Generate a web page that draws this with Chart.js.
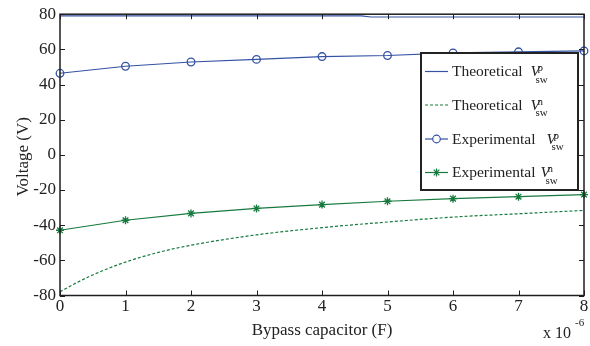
<!DOCTYPE html>
<html lang="en">
<head>
<meta charset="UTF-8">
<title>Voltage vs bypass capacitor</title>
<script src="https://cdn.jsdelivr.net/npm/chart.js"></script>
<style>
  body { margin: 0; background: #fff; }
  #wrap { width: 590px; height: 346px; }
</style>
</head>
<body>
<div id="wrap"><canvas id="vChart" width="590" height="346"></canvas></div>
<script>
// values (x in units of 1e-6 F, y in volts)
const theoryVpX = [0, 4.6, 4.75, 8];
const theoryVp  = [79, 79, 78.4, 78.4];

const theoryVnX = [0, 0.25, 0.5, 1, 1.5, 2, 3, 4, 5, 6, 7, 8];
const theoryVn  = [-77.9, -72.8, -68.3, -61, -55.5, -51.4, -45.5, -41.4, -38.2, -35.4, -33.5, -31.6];

const capX  = [0, 1, 2, 3, 4, 5, 6, 7, 8];
const expVp = [46.4, 50.4, 52.8, 54.3, 55.9, 56.5, 58, 58.6, 59.1];
const expVn = [-42.9, -37.2, -33.3, -30.5, -28.3, -26.4, -24.9, -23.8, -22.6];

const xTicks = [0, 1, 2, 3, 4, 5, 6, 7, 8];
const yTicks = [-80, -60, -40, -20, 0, 20, 40, 60, 80];

const legendText = ['Theoretical', 'Theoretical', 'Experimental', 'Experimental'];
const legendSup  = ['p', 'n', 'p', 'n'];

const BLUE = '#3352a3';
const GREEN = '#167a3e';
const SERIF = '"Liberation Serif", "Times New Roman", serif';

function pts(xs, ys) {
    return ys.map((v, i) => ({ x: xs[i], y: v }));
}

// frame with inward ticks on all four sides, titles, exponent and legend
const decorations = {
    id: 'decorations',
    afterDraw(chart) {
        const ctx = chart.ctx;
        const a = chart.chartArea;
        const xs = chart.scales.x, ys = chart.scales.y;
        ctx.save();
        ctx.strokeStyle = '#1e1e1e';
        ctx.lineWidth = 1.5;
        ctx.strokeRect(a.left, a.top, a.right - a.left, a.bottom - a.top);
        ctx.lineWidth = 1;
        ctx.beginPath();
        xTicks.forEach(t => {
            const px = Math.round(xs.getPixelForValue(t)) + 0.5;
            ctx.moveTo(px, a.bottom); ctx.lineTo(px, a.bottom - 5);
            ctx.moveTo(px, a.top); ctx.lineTo(px, a.top + 5);
        });
        yTicks.forEach(t => {
            const py = Math.round(ys.getPixelForValue(t)) + 0.5;
            ctx.moveTo(a.left, py); ctx.lineTo(a.left + 5, py);
            ctx.moveTo(a.right, py); ctx.lineTo(a.right - 5, py);
        });
        ctx.stroke();

        // axis titles
        ctx.fillStyle = '#222';
        ctx.font = '17px ' + SERIF;
        ctx.textAlign = 'center';
        ctx.textBaseline = 'alphabetic';
        ctx.fillText('Bypass capacitor (F)', (a.left + a.right) / 2, 335);
        ctx.save();
        ctx.translate(28, (a.top + a.bottom) / 2 + 2);
        ctx.rotate(-Math.PI / 2);
        ctx.fillText('Voltage (V)', 0, 0);
        ctx.restore();

        // exponent
        ctx.textAlign = 'left';
        ctx.font = '16px ' + SERIF;
        ctx.fillText('x 10', 543, 338);
        ctx.font = '11px ' + SERIF;
        ctx.fillText('-6', 575, 326);

        // legend box
        const box = { l: 421, t: 53, r: 578, b: 190 };
        ctx.fillStyle = '#fff';
        ctx.fillRect(box.l, box.t, box.r - box.l, box.b - box.t);
        ctx.strokeStyle = '#222';
        ctx.lineWidth = 2;
        ctx.strokeRect(box.l, box.t, box.r - box.l, box.b - box.t);

        const rowY = [71.5, 105, 139, 172.5];
        const vGap = [8, 8, 11, 5];
        chart.data.datasets.forEach((ds, i) => {
            const y = rowY[i];
            ctx.strokeStyle = ds.borderColor;
            ctx.lineWidth = 1.2;
            ctx.setLineDash(ds.borderDash || []);
            ctx.beginPath();
            ctx.moveTo(425, y); ctx.lineTo(448, y);
            ctx.stroke();
            ctx.setLineDash([]);
            if (ds.pointRadius > 0) {
                ctx.fillStyle = '#fff';
                ctx.strokeStyle = ds.pointBorderColor;
                Chart.helpers.drawPoint(ctx, {
                    pointStyle: ds.pointStyle,
                    radius: ds.pointRadius,
                    borderWidth: ds.pointBorderWidth || 1.2,
                    rotation: 0
                }, 436.5, y);
            }
            ctx.fillStyle = '#222';
            ctx.font = '15.5px ' + SERIF;
            ctx.textAlign = 'left';
            ctx.fillText(legendText[i], 452, y + 4.5);
            const vx = 452 + ctx.measureText(legendText[i]).width + vGap[i];
            ctx.font = 'italic 15.5px ' + SERIF;
            ctx.fillText('V', vx, y + 4.5);
            ctx.font = '11px ' + SERIF;
            ctx.fillText(legendSup[i], vx + 7, y - 0.5);
            ctx.fillText('sw', vx + 5, y + 11);
        });
        ctx.restore();
    }
};

new Chart(document.getElementById('vChart').getContext('2d'), {
    type: 'line',
    data: {
        datasets: [
            {
                label: 'Theoretical Vp',
                data: pts(theoryVpX, theoryVp),
                borderColor: BLUE,
                borderWidth: 1.2,
                pointRadius: 0,
                tension: 0
            },
            {
                label: 'Theoretical Vn',
                data: pts(theoryVnX, theoryVn),
                borderColor: GREEN,
                borderWidth: 1.2,
                borderDash: [3, 2],
                pointRadius: 0,
                cubicInterpolationMode: 'monotone'
            },
            {
                label: 'Experimental Vp',
                data: pts(capX, expVp),
                borderColor: BLUE,
                backgroundColor: 'rgba(0,0,0,0)',
                borderWidth: 1.2,
                pointStyle: 'circle',
                pointRadius: 3.8,
                pointBorderWidth: 1.3,
                pointBorderColor: BLUE,
                pointBackgroundColor: 'rgba(0,0,0,0)',
                tension: 0
            },
            {
                label: 'Experimental Vn',
                data: pts(capX, expVn),
                borderColor: GREEN,
                backgroundColor: GREEN,
                borderWidth: 1.2,
                pointStyle: 'star',
                pointRadius: 4,
                pointBorderWidth: 1.3,
                pointBorderColor: GREEN,
                tension: 0
            }
        ]
    },
    options: {
        responsive: false,
        animation: false,
        clip: false,
        layout: { padding: { top: 10.5, right: 6, left: 0, bottom: 0 } },
        plugins: {
            legend: { display: false },
            tooltip: { enabled: false }
        },
        scales: {
            x: {
                type: 'linear',
                min: 0,
                max: 8,
                afterFit: s => { s.height = 50.5; },
                afterBuildTicks: s => { s.ticks = xTicks.map(v => ({ value: v })); },
                ticks: { color: '#222', font: { family: SERIF, size: 17 }, padding: 1, maxRotation: 0 },
                grid: { display: false, drawTicks: false },
                border: { display: false }
            },
            y: {
                min: -80,
                max: 80,
                afterFit: s => { s.width = 60; },
                afterBuildTicks: s => { s.ticks = yTicks.map(v => ({ value: v })); },
                ticks: { color: '#222', font: { family: SERIF, size: 17 }, padding: 4 },
                grid: { display: false, drawTicks: false },
                border: { display: false }
            }
        }
    },
    plugins: [decorations]
});
</script>
</body>
</html>
